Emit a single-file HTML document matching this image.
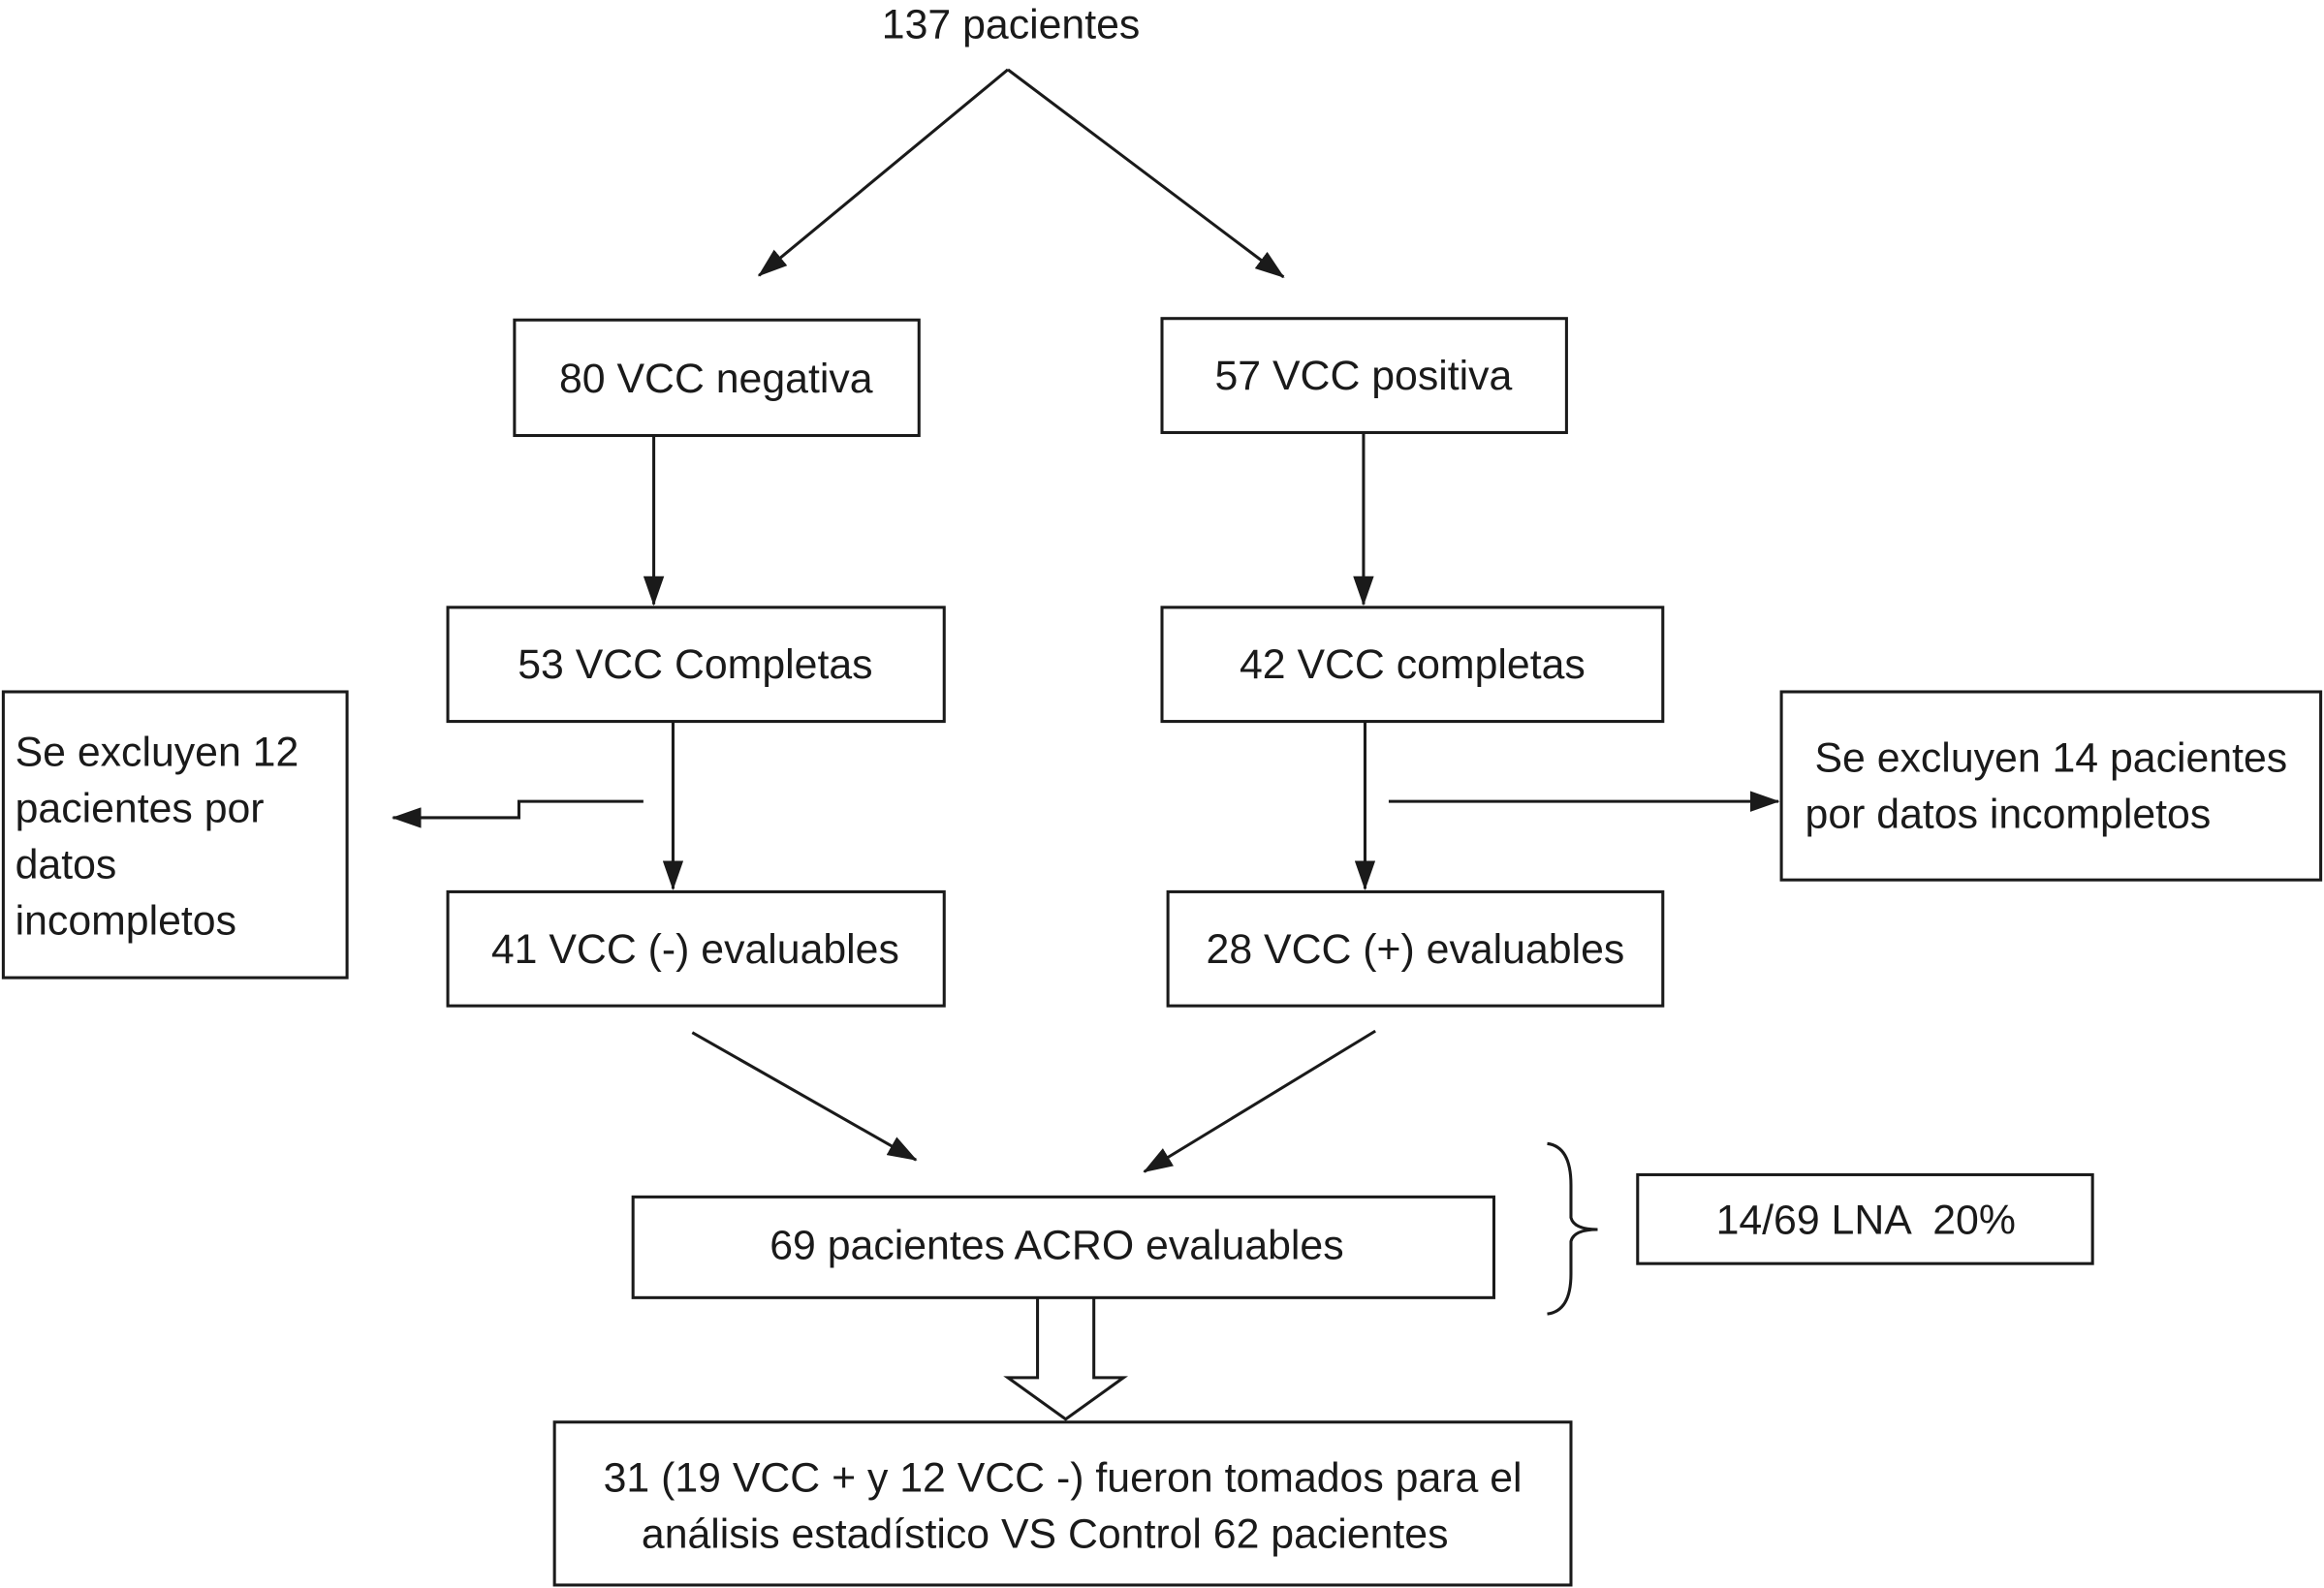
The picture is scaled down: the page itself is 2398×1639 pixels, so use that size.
<!DOCTYPE html>
<html><head><meta charset="utf-8"><style>
html,body{margin:0;padding:0;background:#fff;}
svg{display:block;}
text{font-family:"Liberation Sans",Arial,sans-serif;font-size:28px;fill:#1a1a1a;}
</style></head><body>
<svg width="2398" height="1639" viewBox="0 0 1568 1072" xmlns="http://www.w3.org/2000/svg">
<defs>
<marker id="a" viewBox="0 0 10 10" refX="9" refY="5" markerWidth="7" markerHeight="7" orient="auto" markerUnits="userSpaceOnUse">
</marker>
<marker id="ah" viewBox="0 0 20 14" refX="19" refY="7" markerWidth="20" markerHeight="14" orient="auto" markerUnits="userSpaceOnUse"><path d="M0,0 L20,7 L0,14 z" fill="#1a1a1a"/></marker>
</defs>
<g stroke="#1a1a1a" stroke-width="2" fill="none">
<rect x="347" y="216" width="273" height="78"/>
<rect x="784" y="215" width="273" height="77"/>
<rect x="302" y="410" width="335" height="77"/>
<rect x="784" y="410" width="338" height="77"/>
<rect x="302" y="602" width="335" height="77"/>
<rect x="788" y="602" width="334" height="77"/>
<rect x="2" y="467" width="232" height="193"/>
<rect x="1202" y="467" width="364" height="127"/>
<rect x="427" y="808" width="581" height="68"/>
<rect x="1105" y="793" width="307" height="60"/>
<rect x="374" y="960" width="686" height="110"/>
<line x1="680" y1="47" x2="512" y2="186" marker-end="url(#ah)"/>
<line x1="680" y1="47" x2="866" y2="187" marker-end="url(#ah)"/>
<line x1="441" y1="294" x2="441" y2="408" marker-end="url(#ah)"/>
<line x1="920" y1="292" x2="920" y2="408" marker-end="url(#ah)"/>
<line x1="454" y1="487" x2="454" y2="600" marker-end="url(#ah)"/>
<line x1="921" y1="487" x2="921" y2="600" marker-end="url(#ah)"/>
<polyline points="434,541 350,541 350,552 265,552" marker-end="url(#ah)"/>
<line x1="937" y1="541" x2="1200" y2="541" marker-end="url(#ah)"/>
<line x1="467" y1="697" x2="618" y2="783" marker-end="url(#ah)"/>
<line x1="928" y1="696" x2="772" y2="791" marker-end="url(#ah)"/>
<path d="M1044,772 Q1060,774 1060,800 L1060,822 Q1062,830 1078,830 Q1062,830 1060,838 L1060,860 Q1060,885 1044,887"/>
<path d="M700,876 L700,930 L680,930 L719,958 L758,930 L738,930 L738,876"/>
</g>
<text x="682" y="26" text-anchor="middle">137 pacientes</text>
<text x="483" y="265" text-anchor="middle">80 VCC negativa</text>
<text x="920" y="263" text-anchor="middle">57 VCC positiva</text>
<text x="469" y="458" text-anchor="middle">53 VCC Completas</text>
<text x="953" y="458" text-anchor="middle">42 VCC completas</text>
<text x="469" y="650" text-anchor="middle">41 VCC (-) evaluables</text>
<text x="955" y="650" text-anchor="middle">28 VCC (+) evaluables</text>
<text x="10" y="517">Se excluyen 12</text>
<text x="10" y="555">pacientes por</text>
<text x="10" y="593">datos</text>
<text x="10" y="631">incompletos</text>
<text x="1384" y="521" text-anchor="middle">Se excluyen 14 pacientes</text>
<text x="1218" y="559">por datos incompletos</text>
<text x="713" y="850" text-anchor="middle">69 pacientes ACRO evaluables</text>
<text x="1259" y="833" text-anchor="middle" xml:space="preserve">14/69 LNA  20%</text>
<text x="717" y="1007" text-anchor="middle">31 (19 VCC + y 12 VCC -) fueron tomados para el</text>
<text x="705" y="1045" text-anchor="middle">análisis estadístico VS Control 62 pacientes</text>
</svg>
</body></html>
